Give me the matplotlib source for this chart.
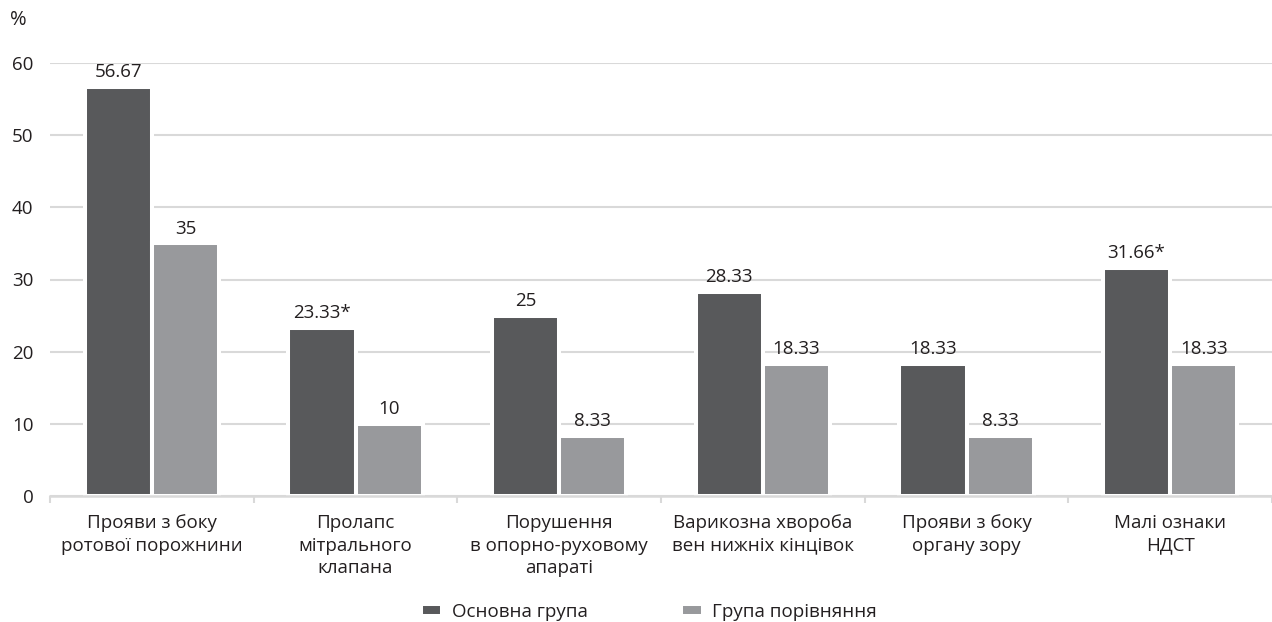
import matplotlib
matplotlib.use("Agg")
import matplotlib.pyplot as plt
import numpy as np

categories = [
    "Прояви з боку\nротової порожнини",
    "Пролапс\nмітрального\nклапана",
    "Порушення\nв опорно-руховому\nапараті",
    "Варикозна хвороба\nвен нижніх кінцівок",
    "Прояви з боку\nоргану зору",
    "Малі ознаки\nНДСТ",
]
main_group = [56.67, 23.33, 25, 28.33, 18.33, 31.66]
comp_group = [35, 10, 8.33, 18.33, 8.33, 18.33]
main_labels = ["56.67", "23.33*", "25", "28.33", "18.33", "31.66*"]
comp_labels = ["35", "10", "8.33", "18.33", "8.33", "18.33"]
series_names = ["Основна група", "Група порівняння"]
yticks = [0, 10, 20, 30, 40, 50, 60]

DARK = "#58595b"
LIGHT = "#98999c"
GRID = "#d9d9d9"
TEXT = "#231f20"
FS = 13.5

plt.rcParams["font.family"] = ["Open Sans", "DejaVu Sans"]

fig = plt.figure(figsize=(12.72, 6.22), dpi=100)
ax = fig.add_axes([50 / 1272, 1 - 496 / 622, 1222 / 1272, 433 / 622])

x = np.arange(len(categories))
w = 0.33
b1 = ax.bar(x - w / 2, main_group, w, color=DARK, edgecolor="white", linewidth=2.9, zorder=3,
            label=series_names[0])
b2 = ax.bar(x + w / 2, comp_group, w, color=LIGHT, edgecolor="white", linewidth=2.9, zorder=3,
            label=series_names[1])

for xs, vals, labs in [(x - w / 2, main_group, main_labels), (x + w / 2, comp_group, comp_labels)]:
    for xi, v, lab in zip(xs, vals, labs):
        ax.annotate(lab, (xi, v), xytext=(0, 4), textcoords="offset points",
                    ha="center", va="bottom", fontsize=FS, color=TEXT)

ax.set_ylim(0, 60)
ax.set_xlim(-0.5, -0.5 + 1222 / 206)
ax.set_yticks(yticks)
ax.yaxis.grid(True, color=GRID, linewidth=1.5, zorder=0)
ax.set_axisbelow(True)
for s in ["top", "right", "left"]:
    ax.spines[s].set_visible(False)
ax.spines["bottom"].set_color(GRID)
ax.spines["bottom"].set_linewidth(1.8)
ax.spines["bottom"].set_zorder(4)

ax.set_xticks(x)
ax.set_xticklabels(categories, fontsize=FS, color=TEXT, linespacing=1.32)
ax.set_xticks(np.arange(-0.5, len(categories), 1.0), minor=True)
ax.tick_params(axis="x", which="major", length=0, pad=13)
ax.tick_params(axis="x", which="minor", length=5, width=1.5, color=GRID)
ax.tick_params(axis="y", length=0, pad=12, labelsize=FS, labelcolor=TEXT)

fig.text(10 / 1272, 1 - 20 / 622, "%", fontsize=14.5, color=TEXT, va="center", ha="left")

fig.legend(handles=[b1, b2], labels=series_names, loc="center", bbox_to_anchor=(0.51, 0.016),
           ncol=2, frameon=False, fontsize=FS, handlelength=1.15, handleheight=0.6,
           handletextpad=0.5, columnspacing=5.0, labelcolor=TEXT)

fig.savefig("out.png", dpi=100)
